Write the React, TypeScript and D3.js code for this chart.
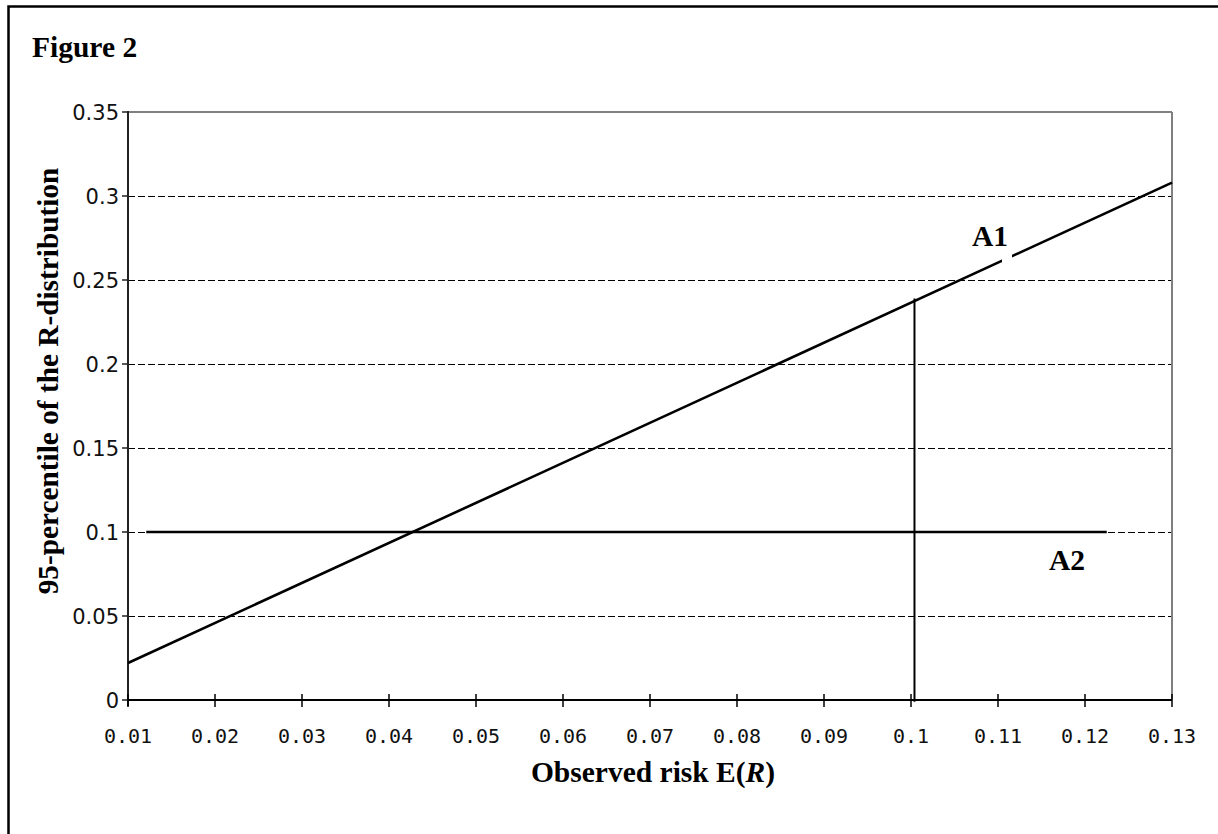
import React from "react";
import * as d3 from "d3";

const xTicks = [0.01, 0.02, 0.03, 0.04, 0.05, 0.06, 0.07, 0.08, 0.09, 0.1, 0.11, 0.12, 0.13];
const xTickLabels = ["0.01", "0.02", "0.03", "0.04", "0.05", "0.06", "0.07", "0.08", "0.09", "0.1", "0.11", "0.12", "0.13"];
const yTicks = [0, 0.05, 0.1, 0.15, 0.2, 0.25, 0.3, 0.35];
const yTickLabels = ["0", "0.05", "0.1", "0.15", "0.2", "0.25", "0.3", "0.35"];

const a1X = [0.01, 0.13];
const a1Y = [0.022, 0.308];
const a2X = [0.0121, 0.1225];
const a2Y = [0.1, 0.1];
const markX = [0.1004, 0.1004];
const markY = [-0.001, 0.239];

const W = 1218;
const H = 834;
const L = 128, R = 1172, T = 112, B = 700;

export default function App() {
  const x = d3.scaleLinear().domain([0.01, 0.13]).range([L, R]);
  const y = d3.scaleLinear().domain([0, 0.35]).range([B, T]);
  const line = d3.line<[number, number]>().x(d => x(d[0])).y(d => y(d[1]));
  const zip = (a: number[], b: number[]) => a.map((v, i) => [v, b[i]] as [number, number]);
  const times = "'Liberation Serif', 'Times New Roman', serif";
  const fs = 29.5;

  return (
    <div style={{ position: "absolute", left: 0, top: 0 }}>
      <svg width={W} height={H} style={{ display: "block", background: "#fff" }}>
        <rect x={0} y={0} width={W} height={H} fill="#fff" />
        {/* outer frame */}
        <rect x={8.5} y={6.5} width={W + 50} height={H + 50} fill="none" stroke="#000" strokeWidth={2.5} />
        <text x={32} y={57} fontFamily={times} fontWeight="bold" fontSize={fs}>Figure 2</text>

        {/* gridlines */}
        {yTicks.slice(1, -1).map((t, i) => (
          <line key={"g" + i} x1={L} x2={R} y1={Math.round(y(t)) + 0.5} y2={Math.round(y(t)) + 0.5} stroke="#000" strokeWidth={1} strokeDasharray="7,3" shapeRendering="crispEdges" />
        ))}
        {/* top & right border */}
        <line x1={L} x2={R} y1={y(0.35)} y2={y(0.35)} stroke="#808080" strokeWidth={2} />
        <line x1={R} x2={R} y1={T} y2={B} stroke="#808080" strokeWidth={2} />

        {/* y axis */}
        <line x1={L} x2={L} y1={T - 1} y2={B + 6} stroke="#222" strokeWidth={2} />
        {yTicks.map((t, i) => (
          <g key={"y" + i}>
            <line x1={L - 6} x2={L} y1={y(t)} y2={y(t)} stroke="#222" strokeWidth={1.5} />
            <text x={119} y={y(t)} dy="0.36em" textAnchor="end" fontFamily="'DejaVu Sans', sans-serif" fontSize={21} fill="#111">{yTickLabels[i]}</text>
          </g>
        ))}

        {/* x axis */}
        <line x1={L} x2={R} y1={B} y2={B} stroke="#000" strokeWidth={2} />
        {xTicks.map((t, i) => (
          <g key={"x" + i}>
            <line x1={x(t)} x2={x(t)} y1={B - 6} y2={B + 7} stroke="#000" strokeWidth={1.5} />
            <text x={x(t)} y={743} textAnchor="middle" fontFamily="'DejaVu Sans Mono', monospace" fontSize={20} fill="#111">{xTickLabels[i]}</text>
          </g>
        ))}

        {/* series */}
        <path d={line(zip(a2X, a2Y)) || ""} stroke="#000" strokeWidth={2.5} fill="none" />
        <path d={line(zip(a1X, a1Y)) || ""} stroke="#000" strokeWidth={2.6} fill="none" />
        <path d={line(zip(markX, markY)) || ""} stroke="#000" strokeWidth={2} fill="none" />

        {/* gap behind A1 label */}
        <rect x={1002} y={252} width={10} height={14} fill="#fff" />
        <text x={990} y={246} textAnchor="middle" fontFamily={times} fontWeight="bold" fontSize={fs}>A1</text>
        <text x={1067} y={570} textAnchor="middle" fontFamily={times} fontWeight="bold" fontSize={fs}>A2</text>

        {/* axis titles */}
        <text x={653} y={782} textAnchor="middle" fontFamily={times} fontWeight="bold" fontSize={fs}>
          Observed risk E(<tspan fontStyle="italic">R</tspan>)
        </text>
        <text transform={`translate(58,381) rotate(-90)`} textAnchor="middle" fontFamily={times} fontWeight="bold" fontSize={29.3}>
          95-percentile of the R-distribution
        </text>
      </svg>
    </div>
  );
}
